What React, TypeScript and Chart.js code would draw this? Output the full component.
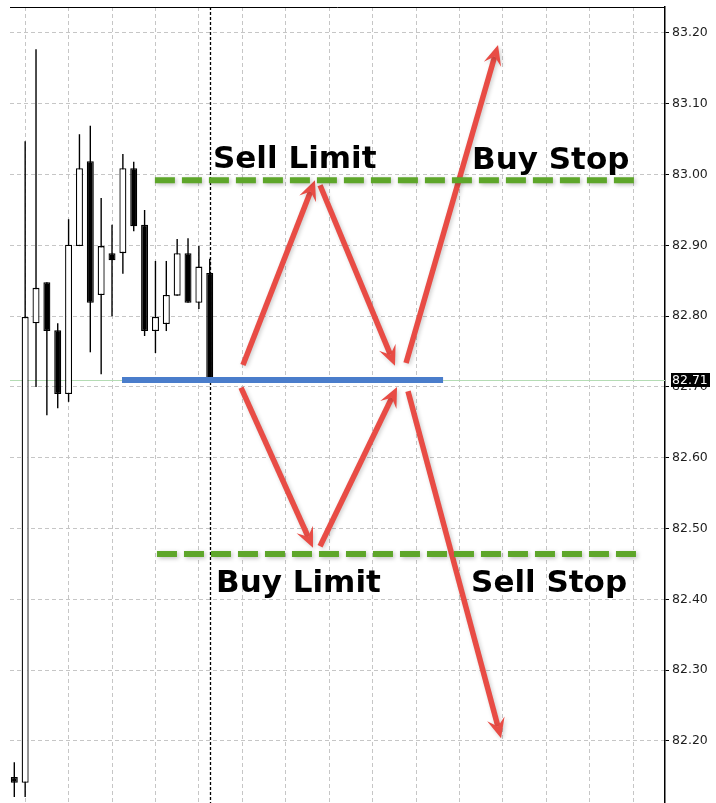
import React, { useEffect, useRef } from 'react';
import { Chart, registerables } from 'chart.js';

Chart.register(...registerables);

// ---- Candles (OHLC) ----
const candleIndex = [0, 1, 2, 3, 4, 5, 6, 7, 8, 9, 10, 11, 12, 13, 14, 15, 16, 17, 18];
const opens = [82.149, 82.141, 82.790, 82.848, 82.780, 82.690, 82.899, 83.019, 82.830, 82.889, 82.889, 83.009, 82.929, 82.779, 82.789, 82.829, 82.889, 82.819, 82.861];
const highs = [82.170, 83.047, 83.177, 82.848, 82.790, 82.937, 83.057, 83.069, 82.967, 82.929, 83.029, 83.018, 82.950, 82.878, 82.878, 82.909, 82.910, 82.899, 82.881];
const lows = [82.121, 82.121, 82.700, 82.660, 82.670, 82.679, 82.899, 82.749, 82.718, 82.800, 82.860, 82.920, 82.772, 82.748, 82.779, 82.829, 82.819, 82.810, 82.712];
const closes = [82.141, 82.799, 82.840, 82.779, 82.690, 82.901, 83.009, 82.819, 82.899, 82.879, 83.009, 82.927, 82.779, 82.799, 82.830, 82.889, 82.819, 82.870, 82.712];

// ---- Axes ----
const priceTicks = [82.2, 82.3, 82.4, 82.5, 82.6, 82.7, 82.8, 82.9, 83.0, 83.1, 83.2];
const timeGridIndex = [1, 5, 9, 13, 17, 21, 25, 29, 33, 37, 41, 45, 49, 53, 57];
const priceMin = 82.1124;
const priceMax = 83.2367;
const indexMin = -0.396;
const indexMax = 59.93;

// ---- Markers ----
const currentPrice = 82.71;
const currentPriceLabel = '82.71';
const cursorIndex = 18;

const blueLevel = 82.71;
const blueFromIndex = 9.92;
const blueToIndex = 39.49;

const pendingPrices = [82.992, 82.464];
const pendingFromIndex = [12.95, 13.14];
const pendingToIndex = [57.26, 57.26];

const arrowFromIndex = [21.06, 28.16, 20.88, 28.16, 36.08, 36.26];
const arrowFromPrice = [82.731, 82.985, 82.699, 82.475, 82.734, 82.694];
const arrowToIndex = [27.69, 35.06, 27.51, 35.25, 44.55, 44.83];
const arrowToPrice = [82.992, 82.730, 82.473, 82.700, 83.183, 82.204];

const labelTexts = ['Sell Limit', 'Buy Stop', 'Buy Limit', 'Sell Stop'];
const labelIndex = [18.30, 42.16, 18.58, 42.07];
const labelPrice = [83.0093, 83.0079, 82.4105, 82.4105];

function drawArrow(ctx: CanvasRenderingContext2D, x1: number, y1: number, x2: number, y2: number) {
  const ang = Math.atan2(y2 - y1, x2 - x1);
  const ux = Math.cos(ang), uy = Math.sin(ang);
  const px = -uy, py = ux;
  const L = 20, W = 9, notch = 0.6;
  ctx.beginPath();
  ctx.moveTo(x1, y1);
  ctx.lineTo(x2 - ux * L * notch, y2 - uy * L * notch);
  ctx.stroke();
  ctx.beginPath();
  ctx.moveTo(x2, y2);
  ctx.lineTo(x2 - ux * L + px * W, y2 - uy * L + py * W);
  ctx.lineTo(x2 - ux * L * notch, y2 - uy * L * notch);
  ctx.lineTo(x2 - ux * L - px * W, y2 - uy * L - py * W);
  ctx.closePath();
  ctx.fill();
}

const overlayPlugin = {
  id: 'overlay',
  beforeDatasetsDraw(chart: any) {
    const { ctx, chartArea, scales } = chart;
    const xs = scales.x, ys = scales.y;
    ctx.save();
    const yp = Math.round(ys.getPixelForValue(currentPrice)) + 0.5;
    ctx.strokeStyle = '#b4dcb4';
    ctx.lineWidth = 1;
    ctx.beginPath();
    ctx.moveTo(chartArea.left, yp);
    ctx.lineTo(chartArea.right, yp);
    ctx.stroke();
    const xc = Math.round(xs.getPixelForValue(cursorIndex)) + 0.5;
    ctx.strokeStyle = '#000';
    ctx.lineWidth = 1.3;
    ctx.setLineDash([3, 2]);
    ctx.beginPath();
    ctx.moveTo(xc, chartArea.top);
    ctx.lineTo(xc, chartArea.bottom);
    ctx.stroke();
    ctx.restore();
  },
  afterDatasetsDraw(chart: any) {
    const { ctx, scales } = chart;
    const xs = scales.x, ys = scales.y;
    ctx.save();
    const yb = ys.getPixelForValue(blueLevel);
    ctx.strokeStyle = '#4a7dcb';
    ctx.lineWidth = 6;
    ctx.lineCap = 'butt';
    ctx.beginPath();
    ctx.moveTo(xs.getPixelForValue(blueFromIndex), yb);
    ctx.lineTo(xs.getPixelForValue(blueToIndex), yb);
    ctx.stroke();

    ctx.shadowColor = 'rgba(0,0,0,0.2)';
    ctx.shadowBlur = 4;
    ctx.shadowOffsetX = 1.5;
    ctx.shadowOffsetY = 1.5;
    ctx.strokeStyle = '#e84c45';
    ctx.fillStyle = '#e84c45';
    ctx.lineWidth = 5.5;
    for (let i = 0; i < arrowFromIndex.length; i++) {
      drawArrow(
        ctx,
        xs.getPixelForValue(arrowFromIndex[i]), ys.getPixelForValue(arrowFromPrice[i]),
        xs.getPixelForValue(arrowToIndex[i]), ys.getPixelForValue(arrowToPrice[i])
      );
    }

    ctx.shadowColor = 'rgba(0,0,0,0.25)';
    ctx.strokeStyle = '#5ea62a';
    ctx.lineWidth = 6;
    ctx.setLineDash([20, 7]);
    for (let i = 0; i < pendingPrices.length; i++) {
      const y = ys.getPixelForValue(pendingPrices[i]);
      ctx.beginPath();
      ctx.moveTo(xs.getPixelForValue(pendingFromIndex[i]), y);
      ctx.lineTo(xs.getPixelForValue(pendingToIndex[i]), y);
      ctx.stroke();
    }
    ctx.setLineDash([]);
    ctx.shadowColor = 'rgba(0,0,0,0)';
    ctx.shadowBlur = 0;
    ctx.shadowOffsetX = 0;
    ctx.shadowOffsetY = 0;

    ctx.fillStyle = '#000';
    ctx.font = 'bold 31px "DejaVu Sans"';
    ctx.textAlign = 'left';
    ctx.textBaseline = 'alphabetic';
    for (let i = 0; i < labelTexts.length; i++) {
      ctx.fillText(labelTexts[i], xs.getPixelForValue(labelIndex[i]), ys.getPixelForValue(labelPrice[i]));
    }
    ctx.restore();
  },
  afterDraw(chart: any) {
    const { ctx, chartArea, scales } = chart;
    const ys = scales.y;
    ctx.save();
    ctx.strokeStyle = '#000';
    ctx.lineWidth = 1;
    ctx.beginPath();
    ctx.moveTo(chartArea.left, chartArea.top + 0.5);
    ctx.lineTo(chartArea.right, chartArea.top + 0.5);
    ctx.stroke();
    const y = Math.round(ys.getPixelForValue(currentPrice));
    ctx.fillStyle = '#000';
    ctx.fillRect(chartArea.right + 6, y - 7, 39, 14);
    ctx.fillStyle = '#fff';
    ctx.font = '12.5px "DejaVu Sans"';
    ctx.textAlign = 'left';
    ctx.textBaseline = 'middle';
    ctx.fillText(currentPriceLabel, chartArea.right + 7, y + 0.5);
    ctx.restore();
  },
};

export default function App() {
  const canvasRef = useRef<HTMLCanvasElement | null>(null);

  useEffect(() => {
    const canvas = canvasRef.current;
    if (!canvas) return;
    const wickData = candleIndex.map((i) => ({ x: i, y: [lows[i], highs[i]] }));
    const bodyData = candleIndex.map((i) => ({ x: i, y: [opens[i], closes[i]] }));
    const bodyColors = candleIndex.map((i) => (closes[i] >= opens[i] ? '#ffffff' : '#000000'));

    const chart = new Chart(canvas, {
      type: 'bar',
      data: {
        datasets: [
          {
            label: 'wick',
            data: wickData as any,
            backgroundColor: '#000',
            borderWidth: 0,
            grouped: false,
            maxBarThickness: 1.4,
            order: 2,
          } as any,
          {
            label: 'body',
            data: bodyData as any,
            backgroundColor: bodyColors,
            borderColor: '#000',
            borderWidth: 1.3,
            borderSkipped: false,
            grouped: false,
            maxBarThickness: 7,
            order: 1,
          } as any,
        ],
      },
      options: {
        responsive: false,
        maintainAspectRatio: false,
        devicePixelRatio: 1,
        animation: false,
        events: [],
        layout: { padding: { left: 10, top: 7, right: 0, bottom: 0 } },
        plugins: { legend: { display: false }, tooltip: { enabled: false } },
        scales: {
          x: {
            type: 'linear',
            position: 'bottom',
            min: indexMin,
            max: indexMax,
            offset: false,
            afterBuildTicks: (s: any) => {
              s.ticks = timeGridIndex.map((v) => ({ value: v }));
            },
            afterFit: (s: any) => {
              s.height = 0;
              s.paddingLeft = 0;
              s.paddingRight = 0;
            },
            ticks: { display: false },
            grid: { offset: false, color: '#c6c6c6', lineWidth: 1, drawTicks: false },
            border: { display: false, dash: [4, 3] },
          },
          y: {
            type: 'linear',
            position: 'right',
            min: priceMin,
            max: priceMax,
            afterBuildTicks: (s: any) => {
              s.ticks = priceTicks.map((v) => ({ value: v }));
            },
            afterFit: (s: any) => {
              s.width = 51;
              s.paddingTop = 0;
              s.paddingBottom = 0;
            },
            ticks: {
              callback: (v: any) => Number(v).toFixed(2),
              color: '#1e1e1e',
              font: { family: 'DejaVu Sans', size: 12.5 },
              padding: 3,
            },
            grid: {
              color: '#c6c6c6',
              lineWidth: 1,
              drawTicks: true,
              tickLength: 4,
              tickColor: '#000',
              tickWidth: 1,
              tickBorderDash: [],
            },
            border: { display: true, color: '#000', width: 1.5, dash: [4, 3] },
          },
        },
      } as any,
      plugins: [overlayPlugin as any],
    });
    return () => chart.destroy();
  }, []);

  return (
    <div style={{ position: 'fixed', left: 0, top: 0, width: 716, height: 803, background: '#fff' }}>
      <canvas ref={canvasRef} width={716} height={803} style={{ display: 'block', width: 716, height: 803 }} />
    </div>
  );
}
